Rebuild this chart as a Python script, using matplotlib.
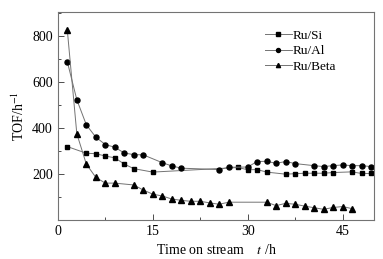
import matplotlib
matplotlib.use("Agg")
import matplotlib.pyplot as plt
from matplotlib.ticker import MultipleLocator

# ---------------------------------------------------------------------------
# Data
# ---------------------------------------------------------------------------
si_t   = [1.5, 4.5, 6, 7.5, 9, 10.5, 12, 15, 28.5, 30, 31.5, 33, 36, 37.5,
          39, 40.5, 42, 43.5, 46.5, 48, 49.5]
si_tof = [319, 290, 288, 278, 270, 243, 223, 208, 228, 218, 219, 208, 199, 201,
          203, 203, 203, 206, 209, 202, 202]

al_t   = [1.5, 3, 4.5, 6, 7.5, 9, 10.5, 12, 13.5, 16.5, 18, 19.5, 25.5, 27,
          30, 31.5, 33, 34.5, 36, 37.5, 40.5, 42, 43.5, 45, 46.5, 48, 49.5]
al_tof = [688, 523, 414, 360, 328, 316, 291, 284, 283, 249, 235, 225, 219, 229,
          230, 254, 255, 246, 254, 245, 236, 232, 236, 239, 236, 236, 232]

beta_t   = [1.5, 3, 4.5, 6, 7.5, 9, 12, 13.5, 15, 16.5, 18, 19.5, 21, 22.5,
            24, 25.5, 27, 33, 34.5, 36, 37.5, 39, 40.5, 42, 43.5, 45, 46.5]
beta_tof = [825, 375, 243, 185, 160, 160, 152, 130, 112, 104, 91, 85, 81, 81,
            74, 68, 77, 77, 62, 72, 68, 60, 53, 46, 54, 58, 49]

# ---------------------------------------------------------------------------
# Plot
# ---------------------------------------------------------------------------
plt.rcParams["font.family"] = ["Liberation Serif", "DejaVu Serif"]
plt.rcParams["mathtext.fontset"] = "stix"

fig = plt.figure(figsize=(3.83, 2.59), dpi=100, facecolor="white")
ax = fig.add_axes([0.151, 0.151, 0.826, 0.803])

line_kw = dict(color="0.45", linewidth=0.7,
               markerfacecolor="black", markeredgecolor="black")
ax.plot(si_t, si_tof, marker="s", markersize=3.4, label="Ru/Si", **line_kw)
ax.plot(al_t, al_tof, marker="o", markersize=3.6, label="Ru/Al", **line_kw)
ax.plot(beta_t, beta_tof, marker="^", markersize=3.8, label="Ru/Beta", **line_kw)

ax.set_xlim(0, 50)
ax.set_ylim(0, 905)
ax.xaxis.set_major_locator(MultipleLocator(15))
ax.xaxis.set_minor_locator(MultipleLocator(7.5))
ax.yaxis.set_major_locator(MultipleLocator(200))
ax.yaxis.set_minor_locator(MultipleLocator(100))
ax.set_yticks([200, 400, 600, 800])
ax.tick_params(which="both", direction="in", top=False, right=False,
               labelsize=10, color="0.3")
ax.tick_params(which="major", length=4, width=0.7)
ax.tick_params(which="minor", length=2.5, width=0.7)
for sp in ax.spines.values():
    sp.set_color("0.45")
    sp.set_linewidth(0.8)

ax.set_xlabel("Time on stream    $t$ /h", fontsize=10, labelpad=4)
ax.set_ylabel("TOF/h$^{-1}$", fontsize=10, labelpad=4)

leg = ax.legend(loc="upper right", bbox_to_anchor=(0.91, 0.96), frameon=False,
                fontsize=9.5, handlelength=2.0, handletextpad=0.1,
                labelspacing=0.25, borderpad=0.2, markerscale=0.8)

fig.savefig("out.png", dpi=100, facecolor="white")
